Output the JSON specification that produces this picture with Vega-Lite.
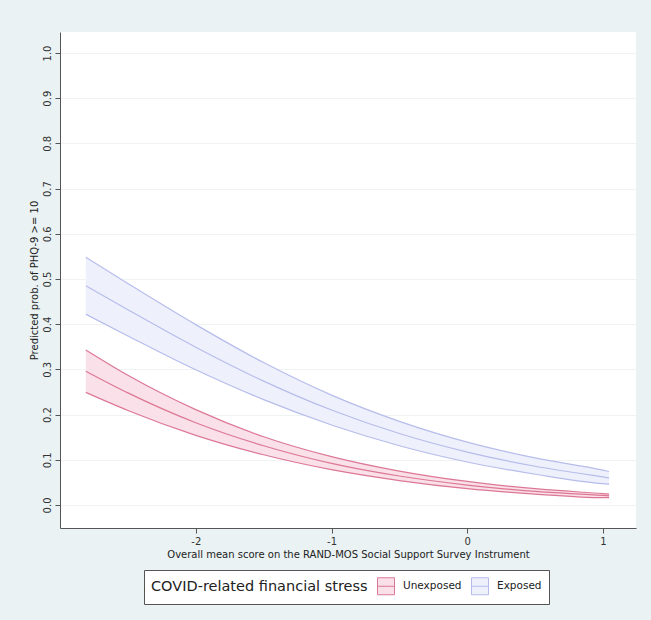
{
  "$schema": "https://vega.github.io/schema/vega-lite/v6.json",
  "autosize": {"type": "none"},
  "padding": {"left": 60, "top": 32, "right": 15, "bottom": 92},
  "width": 576,
  "height": 496,
  "background": "#EAF2F3",
  "config": {
    "view": {"fill": "white", "stroke": null},
    "font": "DejaVu Sans",
    "axis": {
      "domainColor": "#555555",
      "tickColor": "#555555",
      "tickSize": 5,
      "labelFontSize": 10,
      "labelColor": "#333333",
      "labelPadding": 3,
      "titleFontSize": 10,
      "titleFontWeight": "normal",
      "titleColor": "#222222",
      "titlePadding": 3,
      "gridColor": "#EFF3F3",
      "gridWidth": 1
    },
    "legend": {
      "orient": "none",
      "legendX": 84,
      "legendY": 538,
      "direction": "horizontal",
      "titleOrient": "left",
      "titleFontSize": 14.5,
      "titleFontWeight": "normal",
      "titleColor": "#222222",
      "titlePadding": 9,
      "titleLimit": 500,
      "labelFontSize": 10.5,
      "labelColor": "#222222",
      "labelOffset": 8,
      "labelLimit": 200,
      "columnPadding": 7,
      "symbolType": "M-1,-1H1V1H-1Z M-1,0H1",
      "symbolSize": 289,
      "symbolStrokeWidth": 1,
      "padding": 7,
      "strokeColor": "#555555",
      "fillColor": "white"
    }
  },
  "data": {
    "values": [
      {"x": -2.81, "g": "Exposed", "lo": 0.422, "mid": 0.485, "hi": 0.548},
      {"x": -2.5, "g": "Exposed", "lo": 0.374, "mid": 0.432, "hi": 0.49},
      {"x": -2.0, "g": "Exposed", "lo": 0.299, "mid": 0.349, "hi": 0.399},
      {"x": -1.5, "g": "Exposed", "lo": 0.233, "mid": 0.274, "hi": 0.315},
      {"x": -1.0, "g": "Exposed", "lo": 0.177, "mid": 0.21, "hi": 0.243},
      {"x": -0.5, "g": "Exposed", "lo": 0.131, "mid": 0.158, "hi": 0.185},
      {"x": 0.0, "g": "Exposed", "lo": 0.095, "mid": 0.117, "hi": 0.139},
      {"x": 0.5, "g": "Exposed", "lo": 0.068, "mid": 0.0856, "hi": 0.104},
      {"x": 1.0, "g": "Exposed", "lo": 0.047, "mid": 0.062, "hi": 0.077},
      {"x": 1.045, "g": "Exposed", "lo": 0.046, "mid": 0.06, "hi": 0.074},
      {"x": -2.81, "g": "Unexposed", "lo": 0.249, "mid": 0.296, "hi": 0.343},
      {"x": -2.5, "g": "Unexposed", "lo": 0.209, "mid": 0.248, "hi": 0.287},
      {"x": -2.0, "g": "Unexposed", "lo": 0.154, "mid": 0.182, "hi": 0.211},
      {"x": -1.5, "g": "Unexposed", "lo": 0.111, "mid": 0.131, "hi": 0.151},
      {"x": -1.0, "g": "Unexposed", "lo": 0.078, "mid": 0.092, "hi": 0.107},
      {"x": -0.5, "g": "Unexposed", "lo": 0.054, "mid": 0.064, "hi": 0.075},
      {"x": 0.0, "g": "Unexposed", "lo": 0.036, "mid": 0.044, "hi": 0.052},
      {"x": 0.5, "g": "Unexposed", "lo": 0.024, "mid": 0.03, "hi": 0.036},
      {"x": 1.0, "g": "Unexposed", "lo": 0.016, "mid": 0.021, "hi": 0.025},
      {"x": 1.045, "g": "Unexposed", "lo": 0.016, "mid": 0.02, "hi": 0.024}
    ]
  },
  "encoding": {
    "x": {
      "field": "x",
      "type": "quantitative",
      "scale": {"domain": [-3.0, 1.243], "nice": false, "zero": false},
      "axis": {
        "title": "Overall mean score on the RAND-MOS Social Support Survey Instrument",
        "values": [-2, -1, 0, 1],
        "labelExpr": "'' + datum.value",
        "grid": false
      }
    }
  },
  "layer": [
    {
      "mark": {"type": "area", "interpolate": "monotone", "opacity": 1},
      "encoding": {
        "y": {
          "field": "lo",
          "type": "quantitative",
          "scale": {"domain": [-0.051, 1.0465], "nice": false, "zero": false},
          "axis": {
            "title": "Predicted prob. of PHQ-9 >= 10",
            "values": [0, 0.1, 0.2, 0.3, 0.4, 0.5, 0.6, 0.7, 0.8, 0.9, 1.0],
            "format": ".1f",
            "labelAngle": 270,
            "labelAlign": "center",
            "labelBaseline": "bottom",
            "grid": true
          }
        },
        "y2": {"field": "hi"},
        "fill": {
          "field": "g",
          "type": "nominal",
          "scale": {"domain": ["Unexposed", "Exposed"], "range": ["#FAE0E8", "#EEF0FC"]},
          "legend": {"title": "COVID-related financial stress"}
        }
      }
    },
    {
      "mark": {"type": "line", "interpolate": "monotone", "strokeWidth": 1.2},
      "encoding": {
        "y": {"field": "hi", "type": "quantitative"},
        "stroke": {
          "field": "g",
          "type": "nominal",
          "scale": {"domain": ["Unexposed", "Exposed"], "range": ["#DC7896", "#B7BDEB"]},
          "legend": {"title": "COVID-related financial stress"}
        }
      }
    },
    {
      "mark": {"type": "line", "interpolate": "monotone", "strokeWidth": 1.2},
      "encoding": {
        "y": {"field": "mid", "type": "quantitative"},
        "stroke": {"field": "g", "type": "nominal"}
      }
    },
    {
      "mark": {"type": "line", "interpolate": "monotone", "strokeWidth": 1.2},
      "encoding": {
        "y": {"field": "lo", "type": "quantitative"},
        "stroke": {"field": "g", "type": "nominal"}
      }
    }
  ]
}
